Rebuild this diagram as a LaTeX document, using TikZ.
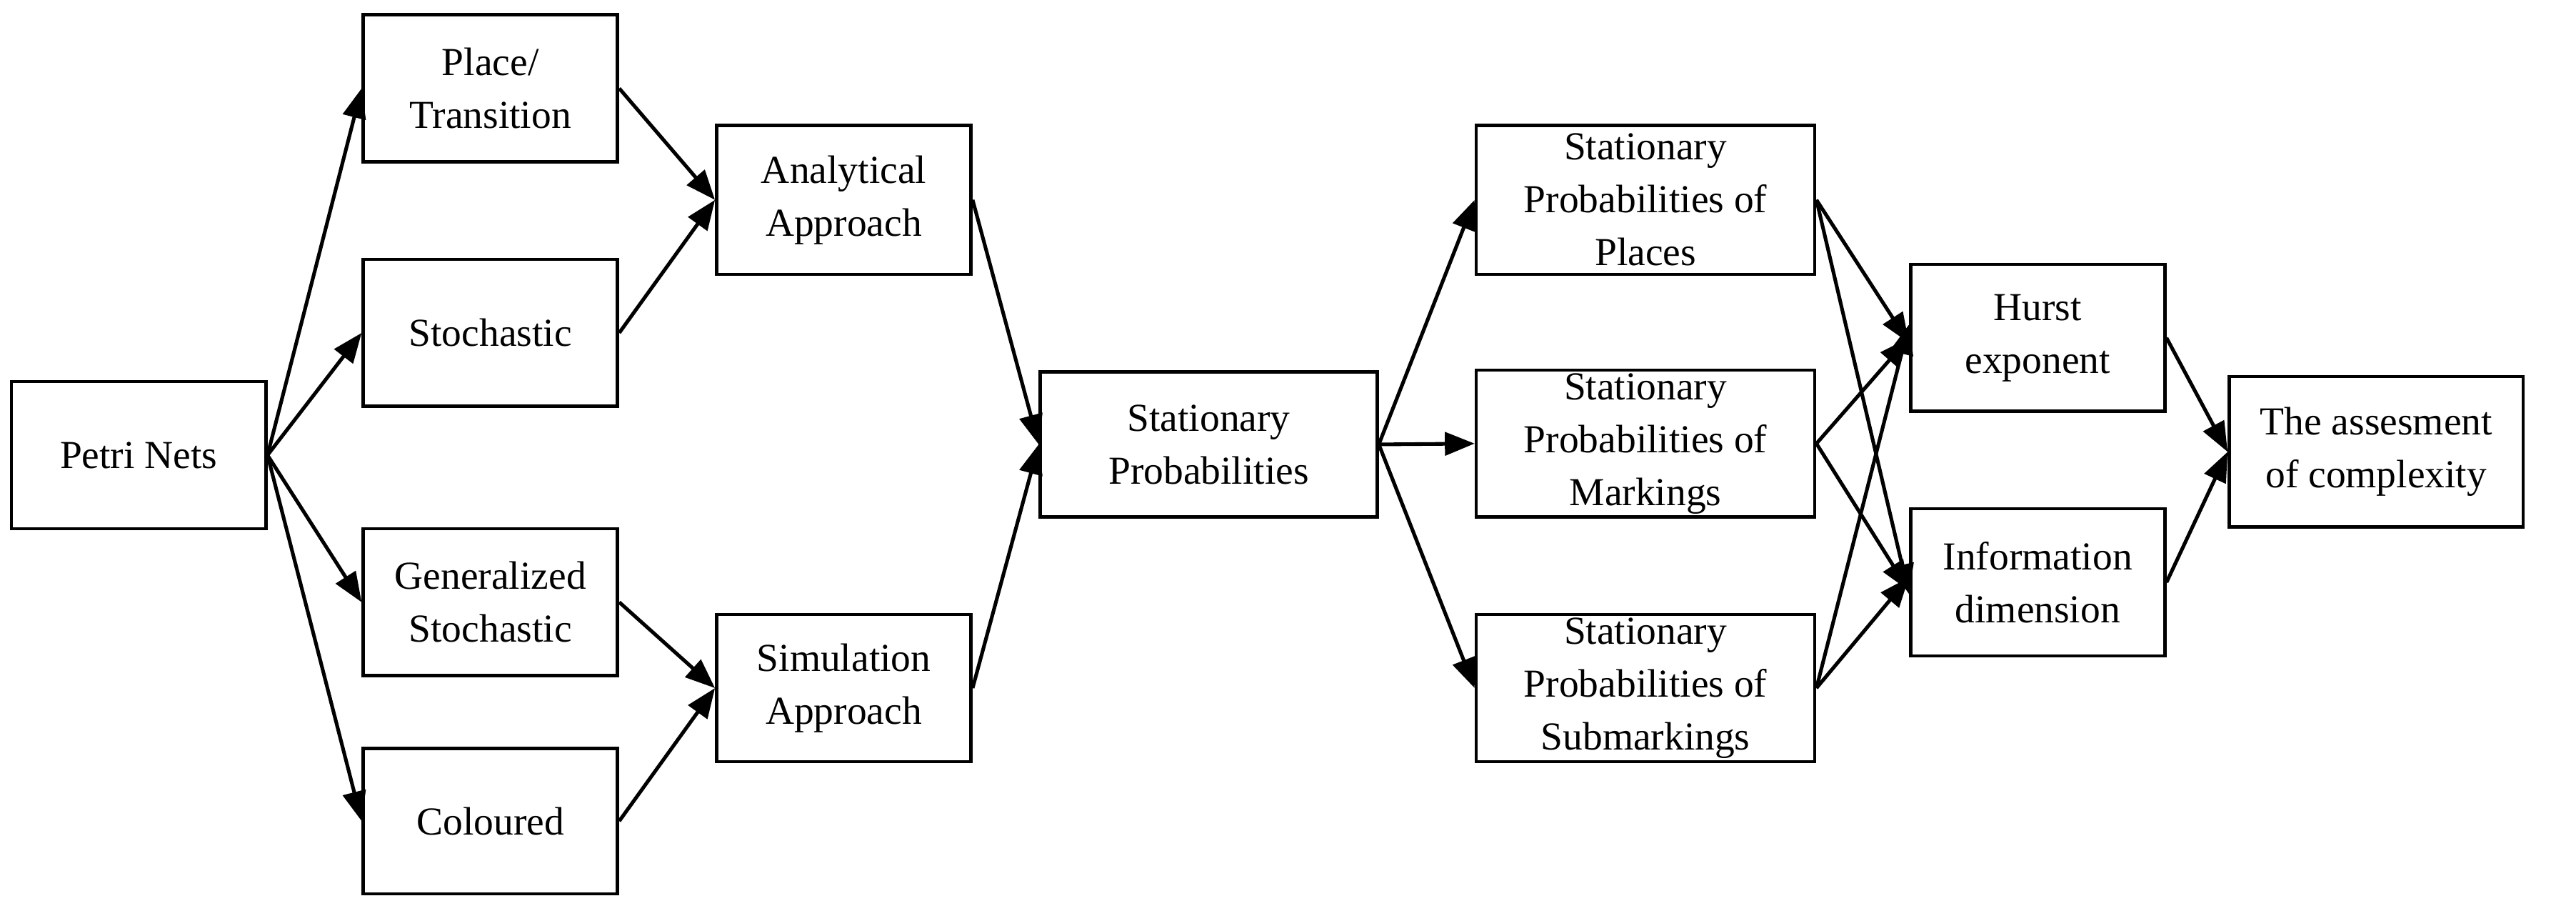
\documentclass[tikz,border=0pt]{standalone}
\usepackage{fontspec}
\setmainfont{Liberation Serif}
\usetikzlibrary{arrows.meta}
\begin{document}
\begin{tikzpicture}[x=1pt,y=-1pt,
  box/.style={draw,line width=2pt,inner sep=0pt,align=center,font=\fontsize{24}{32}\selectfont},
  ar/.style={line width=2.2pt,-{Triangle[length=18pt,width=14pt]}}]
\useasboundingbox (0,0) rectangle (1560,545);
\newcommand{\bx}[6]{\node[box,minimum width=#4-#2,minimum height=#5-#3] (#1) at ({(#2+#4)/2},{(#3+#5)/2}) {#6};}
\bx{pn}{7}{231}{161}{320}{Petri Nets}
\bx{pt}{220}{9}{374}{98}{Place/\\Transition}
\bx{st}{220}{157}{374}{246}{Stochastic}
\bx{gs}{220}{320}{374}{409}{Generalized\\Stochastic}
\bx{co}{220}{453}{374}{541}{Coloured}
\bx{an}{434}{76}{588}{166}{Analytical\\Approach}
\bx{si}{434}{372}{588}{461}{Simulation\\Approach}
\bx{sp}{630}{225}{834}{313}{Stationary\\Probabilities}
\bx{pl}{894}{76}{1099}{166}{Stationary\\Probabilities of\\Places}
\bx{ma}{894}{224}{1099}{313}{Stationary\\Probabilities of\\Markings}
\bx{sb}{894}{372}{1099}{461}{Stationary\\Probabilities of\\Submarkings}
\bx{hu}{1157}{160}{1311}{249}{Hurst\\exponent}
\bx{in}{1157}{308}{1311}{397}{Information\\dimension}
\bx{as}{1350}{228}{1528}{319}{The assesment\\of complexity}
\foreach \t in {pt,st,gs,co} \draw[ar] (pn.east) -- (\t.west);
\draw[ar] (pt.east) -- (an.west);
\draw[ar] (st.east) -- (an.west);
\draw[ar] (gs.east) -- (si.west);
\draw[ar] (co.east) -- (si.west);
\draw[ar] (an.east) -- (sp.west);
\draw[ar] (si.east) -- (sp.west);
\foreach \t in {pl,ma,sb} \draw[ar] (sp.east) -- (\t.west);
\draw[ar] (pl.east) -- ([yshift=-3pt]hu.west);
\draw[ar] (pl.east) -- ([yshift=-7pt]in.west);
\draw[ar] (ma.east) -- (hu.west);
\draw[ar] (ma.east) -- ([yshift=-5pt]in.west);
\draw[ar] (sb.east) -- ([yshift=8pt]hu.west);
\draw[ar] (sb.east) -- ([yshift=3pt]in.west);
\draw[ar] (hu.east) -- (as.west);
\draw[ar] (in.east) -- (as.west);
\end{tikzpicture}
\end{document}
